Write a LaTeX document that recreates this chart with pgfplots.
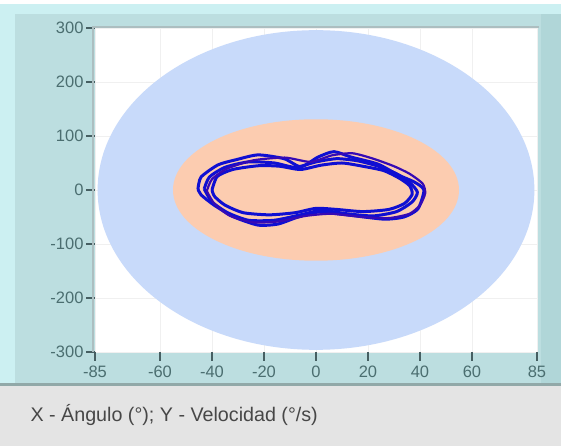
\documentclass[border=0pt]{standalone}
\usepackage{fontspec}
\setmainfont{Liberation Sans}
\usepackage{pgfplots}
\pgfplotsset{compat=1.18}
\definecolor{bgteal}{RGB}{188,222,224}
\definecolor{bglight}{RGB}{204,240,242}
\definecolor{bgright}{RGB}{176,214,216}
\definecolor{bggrey}{RGB}{228,228,228}
\definecolor{bgline}{RGB}{145,168,168}
\definecolor{framegrey}{RGB}{172,190,192}
\definecolor{ellblue}{RGB}{200,218,250}
\definecolor{ellorange}{RGB}{252,204,176}
\definecolor{loopblue}{RGB}{15,15,210}
\definecolor{ticklab}{RGB}{75,110,112}
\definecolor{tickcol}{RGB}{70,95,98}
\begin{document}
\begin{tikzpicture}
\path[use as bounding box] (0,0) rectangle (561pt,446pt);
\fill[bgteal] (0,0) rectangle (561pt,446pt);
\fill[bglight] (0,60pt) rectangle (15pt,446pt);
\fill[bglight] (0,432pt) rectangle (561pt,442pt);
\fill[white] (0,442pt) rectangle (561pt,446pt);
\fill[bgright] (541pt,60pt) rectangle (561pt,432pt);
\fill[bggrey] (0,0) rectangle (561pt,60pt);
\fill[bgline] (0,60pt) rectangle (561pt,63pt);
\begin{axis}[
  at={(95pt,94pt)}, anchor=south west,
  width=442pt, height=324pt, scale only axis,
  xmin=-85, xmax=85, ymin=-300, ymax=300,
  xtick={-85,-60,-40,-20,0,20,40,60,85},
  ytick={-300,-200,-100,0,100,200,300},
  axis background/.style={fill=white},
  axis line style={draw=none},
  grid=major, major grid style={draw=black!6, line width=0.8pt},
  tick align=outside, major tick length=9pt,
  tick style={draw=tickcol, line width=1.2pt},
  xtick pos=bottom, ytick pos=left,
  /pgf/number format/assume math mode=true,
  ticklabel style={font=\fontsize{16.5}{16.5}\selectfont, text=ticklab},
  xticklabel style={yshift=-1pt},
  yticklabel style={xshift=1pt},
  clip=true,
]
\fill[ellblue] (axis cs:0,0) ellipse [x radius=84, y radius=296];
\fill[ellorange] (axis cs:0,0) ellipse [x radius=55, y radius=131];
\addplot[loopblue, line width=3pt, smooth, tension=0.4] coordinates {
(-45.4,1.9) (-44.2,24) (-37.7,46.5) (-30.8,56) (-22.3,65) (-12.3,58) (-5.8,43) (0.8,61) (6.9,71) (13.5,61) (23.8,48) (31.5,28) (37.7,15) (41.5,0) (39.2,-35) (33.8,-50) (26.2,-54) (13.5,-47) (0.8,-41) (-6.9,-50) (-14.6,-63) (-22.3,-65) (-31.5,-50) (-39.2,-28) (-44.2,-9) (-45.4,1.9)};
\addplot[loopblue, line width=3pt, smooth, tension=0.4] coordinates {
(-40,0) (-38,25) (-32,38) (-22,45) (-14,44) (-6,38) (2,46) (10,50) (18,44) (26,36) (32,22) (36,8) (37,-8) (34,-25) (28,-36) (18,-40) (8,-36) (0,-34) (-8,-42) (-18,-46) (-28,-42) (-35,-28) (-39,-12) (-40,0)};
\addplot[loopblue, line width=3pt, smooth, tension=0.4] coordinates {
(-43,2) (-41,24) (-35,42) (-26,52) (-16,50) (-8,42) (0,52) (8,58) (16,54) (24,44) (31,30) (36,14) (39,-4) (37,-22) (31,-40) (22,-48) (12,-44) (2,-38) (-6,-46) (-16,-56) (-26,-56) (-34,-42) (-40,-22) (-43,2)};
\addplot[loopblue!65!violet, line width=2.2pt, smooth, tension=0.4] coordinates {
(-42,-2) (-40,20) (-34,40) (-24,55) (-12,60) (-2,52) (6,64) (14,68) (22,58) (30,44) (36,30) (41,12) (42,-6) (40,-28) (36,-44) (28,-52) (18,-50) (6,-44) (-4,-48) (-14,-58) (-24,-60) (-33,-48) (-39,-26) (-42,-2)};
\end{axis}
\draw[framegrey, line width=2.5pt] (93pt,94pt) -- (93pt,419pt) -- (539pt,419pt);
\node[anchor=west, text=black!72, font=\fontsize{19.7}{19.7}\selectfont] at (27pt,31pt) {X - Ángulo (°); Y - Velocidad (°/s)};
\end{tikzpicture}
\end{document}
